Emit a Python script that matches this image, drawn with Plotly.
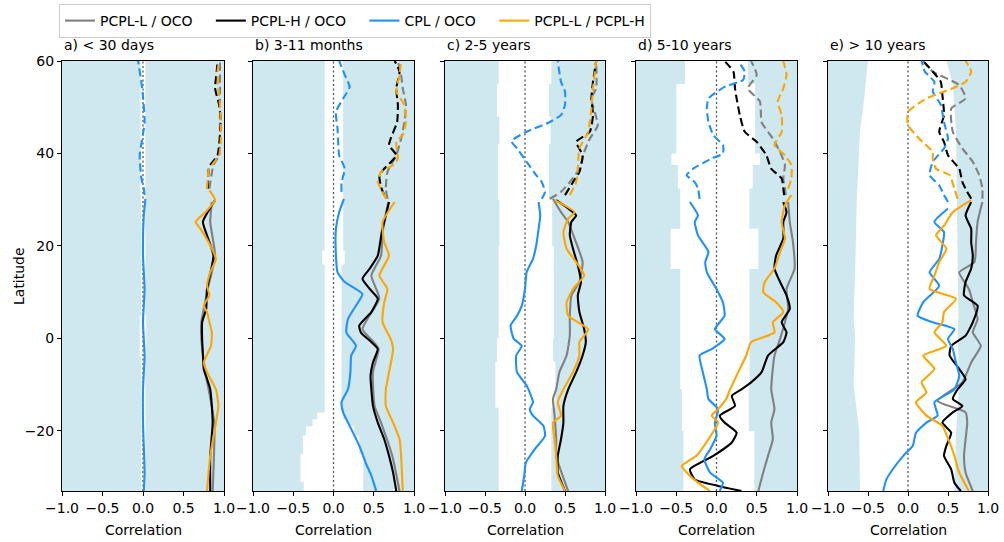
import plotly.graph_objects as go

# ---------------- data (latitude, correlation) ----------------
TITLES = ["a) < 30 days", "b) 3-11 months", "c) 2-5 years", "d) 5-10 years", "e) > 10 years"]
SERIES_NAMES = ["PCPL-L / OCO", "PCPL-H / OCO", "CPL / OCO", "PCPL-L / PCPL-H"]
X_TICKS = [-1.0, -0.5, 0.0, 0.5, 1.0]
X_TICK_LABELS = ["\u22121.0", "\u22120.5", "0.0", "0.5", "1.0"]
Y_TICKS = [-20, 0, 20, 40, 60]
Y_TICK_LABELS = ["\u221220", "0", "20", "40", "60"]
LAT_MIN, LAT_MAX = -33, 60

# ---- panel a ----
A_GRAY_SOLID = [(29.5,0.85),(25.2,0.83),(17.9,0.89),(10.7,0.80),(3.5,0.72),(-0.1,0.72),(-7.3,0.77),(-18.2,0.88),(-33,0.86)]
A_BLACK_SOLID = [(29.9,0.89),(25.2,0.74),(22.3,0.79),(17.9,0.87),(10.7,0.79),(6.4,0.78),(3.5,0.73),(-0.1,0.73),(-3.7,0.74),(-6.6,0.75),(-11,0.83),(-18.2,0.86),(-25.4,0.83),(-33,0.83)]
A_BLUE_SOLID = [(30.2,0.03),(26.6,0.01),(17.9,0.0),(10.7,0.02),(3.5,0.0),(-3.7,0.02),(-11,0.0),(-18.2,0.0),(-29,0.02),(-33,0.01)]
A_ORANGE_SOLID = [(32.0,0.82),(29.9,0.89),(27.3,0.77),(25.2,0.65),(23.7,0.71),(20.8,0.81),(17.2,0.90),(14.3,0.83),(11.4,0.79),(9.3,0.82),(7.1,0.75),(5.7,0.79),(3.5,0.82),(1.3,0.85),(-1.6,0.84),(-5.2,0.75),(-7.3,0.79),(-11,0.90),(-14.6,0.93),(-18.2,0.90),(-25.4,0.83),(-33,0.79)]
A_GRAY_DASH = [(32.4,0.82),(37.5,0.87),(39.6,0.94),(46.8,0.95),(60,0.95)]
A_BLACK_DASH = [(32.4,0.80),(36.4,0.81),(37.5,0.83),(39.6,0.92),(46.8,0.96),(50.5,0.94),(54.1,0.89),(57.7,0.91),(60,0.92)]
A_BLUE_DASH = [(31.0,0.02),(32.4,0.01),(34.6,-0.02),(39.6,-0.04),(46.8,0.02),(54.1,-0.01),(60,-0.06)]
A_ORANGE_DASH = [(32.4,0.79),(34.6,0.80),(36.4,0.81),(37.5,0.85),(39.6,0.94),(43.2,0.96),(46.8,0.96),(50.5,0.95),(54.1,0.93),(57.7,0.92),(60,0.94)]

# ---- panel b ----
B_GRAY_SOLID = [(29.5,0.68),(23.0,0.61),(17.9,0.59),(13.6,0.47),(10.7,0.53),(8.6,0.57),(2.0,0.36),(-0.8,0.50),(-2.3,0.56),(-7.3,0.49),(-14.6,0.51),(-18.2,0.59),(-25.4,0.73),(-33,0.82)]
B_BLACK_SOLID = [(29.5,0.69),(26.6,0.65),(23.0,0.60),(17.9,0.55),(15.1,0.45),(12.9,0.36),(10.7,0.45),(8.6,0.55),(5.7,0.47),(2.8,0.32),(1.3,0.34),(-0.8,0.47),(-2.3,0.55),(-5.2,0.49),(-8.1,0.46),(-11,0.47),(-14.6,0.49),(-18.2,0.55),(-21.8,0.63),(-25.4,0.69),(-29,0.74),(-33,0.78)]
B_BLUE_SOLID = [(30.2,0.13),(27.3,0.07),(23.7,0.03),(17.9,0.03),(14.3,0.05),(12.2,0.14),(9.6,0.36),(7.1,0.28),(4.2,0.18),(1.3,0.16),(-1.6,0.28),(-3.7,0.22),(-7.3,0.21),(-11,0.18),(-13.8,0.10),(-16,0.12),(-19.6,0.22),(-23.2,0.32),(-26.9,0.40),(-29.7,0.47),(-33,0.53)]
B_ORANGE_SOLID = [(29.5,0.76),(25.2,0.61),(20.8,0.63),(17.9,0.69),(13.6,0.57),(10.7,0.67),(7.8,0.63),(3.5,0.61),(-0.1,0.71),(-2.3,0.74),(-7.3,0.69),(-11,0.65),(-14.6,0.65),(-18.2,0.74),(-21.8,0.82),(-25.4,0.84),(-33,0.86)]
B_GRAY_DASH = [(30.2,0.67),(32.4,0.65),(36,0.67),(39.6,0.78),(43.2,0.84),(46.8,0.88),(50.5,0.90),(54.1,0.86),(57,0.84),(60,0.80)]
B_BLACK_DASH = [(31.0,0.63),(32.8,0.59),(35.3,0.57),(36.7,0.63),(39.6,0.78),(41.8,0.69),(43.2,0.71),(46.8,0.79),(50.5,0.80),(54.1,0.78),(57.7,0.82),(60,0.76)]
B_BLUE_DASH = [(31.7,0.10),(33.8,0.10),(36.7,0.14),(39.6,0.07),(41.8,0.06),(45.4,0.05),(49,0.03),(51.9,0.12),(54.4,0.20),(57,0.14),(60,0.07)]
B_ORANGE_DASH = [(30.2,0.65),(32.4,0.59),(33.8,0.55),(36,0.59),(37.5,0.74),(38.9,0.80),(42.5,0.78),(44,0.86),(46.8,0.90),(50.5,0.88),(53.4,0.78),(57,0.82),(60,0.84)]

# ---- panel c ----
C_GRAY_SOLID = [(30.2,0.35),(27.3,0.45),(25.2,0.54),(21.6,0.62),(16.5,0.72),(12.2,0.68),(9.3,0.58),(4.9,0.56),(0.6,0.56),(-3.7,0.52),(-7.3,0.43),(-11,0.39),(-13.1,0.35),(-16.7,0.37),(-21.8,0.39),(-25.4,0.39),(-33,0.54)]
C_BLACK_SOLID = [(29.9,0.39),(28.1,0.54),(26.6,0.64),(25.2,0.58),(22.3,0.56),(19.4,0.60),(15.8,0.66),(12.2,0.70),(9.3,0.66),(5.7,0.68),(2.0,0.74),(-0.8,0.76),(-3.7,0.72),(-7.3,0.64),(-11,0.54),(-14.6,0.48),(-18.2,0.48),(-21.8,0.45),(-25.4,0.41),(-29,0.41),(-33,0.50)]
C_BLUE_SOLID = [(29.5,0.17),(26.6,0.19),(23.7,0.17),(20.1,0.14),(17.2,0.10),(14.3,0.02),(10.7,0.0),(7.1,-0.04),(4.9,-0.10),(2.8,-0.18),(-0.1,-0.14),(-1.6,-0.04),(-3.7,-0.11),(-7.3,-0.10),(-10.2,0.02),(-13.8,0.10),(-15.3,0.06),(-16.7,0.10),(-18.9,0.23),(-21.1,0.25),(-24,0.12),(-26.9,0.01),(-29.7,-0.01),(-33,-0.04)]
C_ORANGE_SOLID = [(29.9,0.37),(27.3,0.62),(25.9,0.54),(23.0,0.48),(19.4,0.52),(16.5,0.64),(13.6,0.74),(10.7,0.60),(7.8,0.52),(4.9,0.54),(2.0,0.79),(-0.8,0.68),(-3.7,0.68),(-7.3,0.60),(-11,0.48),(-13.8,0.41),(-16.7,0.45),(-18.2,0.35),(-21.8,0.37),(-25.4,0.39),(-29.7,0.41),(-33,0.50)]
C_GRAY_DASH = [(30.2,0.31),(31.7,0.45),(33.8,0.56),(36.7,0.68),(40.3,0.74),(43.2,0.81),(46.1,0.91),(51.9,0.83),(54.1,0.89),(60,0.89)]
C_BLACK_DASH = [(31.0,0.50),(33.8,0.60),(36,0.68),(39.6,0.72),(42.5,0.64),(44.7,0.81),(48.3,0.85),(51.9,0.83),(55.5,0.85),(60,0.89)]
C_BLUE_DASH = [(30.2,0.21),(31.7,0.25),(33.8,0.21),(35.3,0.14),(38.2,0.02),(41.1,-0.10),(42.7,-0.17),(44.7,0.02),(46.8,0.31),(48.3,0.45),(50.5,0.50),(53.4,0.50),(55.5,0.45),(60,0.41)]
C_ORANGE_DASH = [(31.0,0.56),(33.8,0.64),(36.7,0.66),(41.1,0.68),(44.7,0.79),(49.7,0.83),(54.1,0.85),(60,0.89)]

# ---- panel d ----
D_GRAY_SOLID = [(29.5,0.89),(25.2,0.91),(20.8,0.95),(15.1,0.97),(10.7,0.87),(6.4,0.89),(3.5,0.85),(-0.1,0.79),(-3.7,0.72),(-11,0.68),(-15.3,0.72),(-18.2,0.68),(-21.8,0.70),(-25.4,0.64),(-29,0.58),(-33,0.52)]
D_BLACK_SOLID = [(29.5,0.83),(27.3,0.87),(25.2,0.83),(21.6,0.83),(17.9,0.74),(15.1,0.72),(12.2,0.79),(9.3,0.87),(6.4,0.91),(3.5,0.81),(1.3,0.87),(-0.8,0.83),(-3.7,0.64),(-7.3,0.56),(-9.5,0.43),(-11,0.31),(-12.4,0.19),(-14.6,0.23),(-16.7,0.04),(-18.2,0.10),(-20.4,0.25),(-22.5,0.19),(-25.4,-0.04),(-28.3,-0.33),(-30.5,-0.27),(-31.9,0.02),(-33,0.31)]
D_BLUE_SOLID = [(29.5,-0.33),(26.6,-0.23),(25.2,-0.27),(22.3,-0.23),(18.7,-0.10),(16.5,-0.14),(14.3,-0.12),(10.7,0.0),(7.8,0.08),(4.9,0.10),(2.0,-0.02),(-0.1,0.10),(-2.3,-0.06),(-3.7,-0.21),(-7.3,-0.17),(-11,-0.12),(-13.1,-0.10),(-15.3,0.02),(-18.2,-0.02),(-21.1,0.0),(-24,-0.08),(-26.1,-0.15),(-29,-0.08),(-31.2,0.08),(-33,0.04)]
D_ORANGE_SOLID = [(31.0,0.93),(28.8,0.85),(25.2,0.81),(21.6,0.85),(18.7,0.79),(15.1,0.72),(12.2,0.60),(10.0,0.58),(7.8,0.74),(5.7,0.83),(3.5,0.70),(1.3,0.72),(-0.8,0.43),(-3.7,0.37),(-7.3,0.27),(-11,0.17),(-13.1,0.12),(-15.3,0.02),(-16.7,-0.06),(-18.2,0.02),(-21.8,-0.10),(-25.4,-0.25),(-27.6,-0.43),(-29.7,-0.33),(-31.2,-0.23),(-33,-0.08)]
D_GRAY_DASH = [(31.0,0.86),(32.4,0.85),(34.6,0.83),(37.5,0.85),(40.3,0.79),(43.2,0.70),(46.8,0.56),(51.2,0.54),(54.1,0.39),(57,0.50),(60,0.43)]
D_BLACK_DASH = [(31.0,0.84),(32.4,0.83),(34.6,0.81),(36.7,0.68),(39.6,0.62),(42.5,0.50),(44.7,0.35),(48.3,0.29),(51.9,0.25),(54.1,0.23),(57.7,0.21),(60,0.10)]
D_BLUE_DASH = [(30.2,-0.21),(32.4,-0.23),(33.8,-0.27),(35.3,-0.37),(36.7,-0.29),(38.9,-0.06),(40,0.08),(41.8,0.08),(44,-0.04),(46.8,-0.10),(49.7,-0.12),(51.9,-0.10),(54.4,0.10),(55.9,0.33),(57.7,0.35),(60,0.27)]
D_ORANGE_DASH = [(32.4,0.89),(34.6,0.93),(37.5,0.93),(39.6,0.85),(41.8,0.72),(44.7,0.81),(48.3,0.81),(51.2,0.76),(54.1,0.83),(57,0.87),(60,0.83)]

# ---- panel e ----
E_GRAY_SOLID = [(29.5,0.93),(25.2,0.87),(20.8,0.85),(16.5,0.83),(14.3,0.64),(10.7,0.76),(7.8,0.81),(4.2,0.87),(1.3,0.81),(-1.6,0.91),(-5.2,0.79),(-9.5,0.68),(-13.5,0.37),(-16,0.72),(-18.2,0.74),(-21.8,0.72),(-25.4,0.70),(-29,0.72),(-33,0.81)]
E_BLACK_SOLID = [(29.5,0.79),(26.6,0.72),(23.7,0.79),(20.8,0.79),(17.9,0.81),(15.1,0.79),(12.2,0.72),(9.3,0.70),(7.1,0.87),(3.5,0.81),(0.6,0.72),(-1.6,0.54),(-3.7,0.52),(-6.6,0.64),(-8.8,0.72),(-11,0.62),(-13.1,0.56),(-14.6,0.68),(-16,0.56),(-18.2,0.43),(-20.4,0.54),(-23.2,0.48),(-25.4,0.45),(-28.3,0.54),(-31.2,0.58),(-33,0.66)]
E_BLUE_SOLID = [(28.1,0.50),(25.2,0.33),(23.0,0.45),(20.1,0.43),(17.2,0.39),(14.3,0.27),(11.4,0.39),(7.8,0.19),(4.9,0.12),(3.5,0.31),(2.0,0.58),(-0.1,0.50),(-2.3,0.56),(-5.2,0.60),(-8.1,0.64),(-11,0.58),(-13.8,0.33),(-16.7,0.37),(-18.2,0.23),(-20.4,0.10),(-23.2,0.06),(-25.4,-0.06),(-28.3,-0.19),(-30.5,-0.27),(-33,-0.31)]
E_ORANGE_SOLID = [(29.9,0.79),(27.3,0.56),(24.4,0.45),(22.3,0.35),(19.4,0.48),(16.5,0.39),(13.6,0.33),(10.7,0.27),(8.6,0.60),(5.7,0.45),(3.5,0.43),(1.3,0.33),(-1.6,0.48),(-3.7,0.19),(-6.6,0.33),(-9.5,0.17),(-11.7,0.23),(-13.8,0.10),(-16.7,0.23),(-18.9,0.43),(-22.5,0.52),(-25.4,0.58),(-29,0.64),(-33,0.76)]
E_GRAY_DASH = [(30.2,0.93),(32.4,0.93),(35.3,0.89),(38.2,0.81),(41.1,0.68),(44.7,0.56),(49.7,0.54),(51.9,0.72),(54.8,0.64),(57.7,0.31),(60,0.19)]
E_BLACK_DASH = [(30.2,0.79),(31.7,0.74),(33.8,0.68),(36.7,0.64),(39.6,0.50),(42.5,0.45),(44.7,0.39),(48.3,0.45),(52.6,0.43),(55.5,0.41),(57.7,0.31),(60,0.19)]
E_BLUE_DASH = [(29.5,0.50),(31.0,0.45),(33.1,0.39),(35.3,0.27),(38.2,0.31),(41.1,0.45),(43.2,0.50),(46.8,0.45),(50.5,0.41),(53.4,0.31),(55.5,0.33),(57.7,0.21),(60,0.17)]
E_ORANGE_DASH = [(30.2,0.62),(32.4,0.58),(35.3,0.52),(36.7,0.35),(38.9,0.31),(40.3,0.31),(43.2,0.14),(46.1,0.0),(49,0.0),(51.9,0.23),(54.1,0.56),(55.5,0.72),(57.7,0.79),(60,0.72)]

# ---- significance bands ----
# stepped bands: latitude boundaries (descending, n+1) with n lower/upper thresholds
A_BAND_LAT = [60, 31, 5, -4, -33]
A_BAND_LO = [-0.03, -0.025, -0.04, -0.025]
A_BAND_HI = [0.03, 0.03, 0.04, 0.03]
B_BAND_LAT = [60, 19, 16, -16, -17.5, -19, -21, -25, -31, -33]
B_BAND_LO = [-0.11, -0.14, -0.11, -0.20, -0.26, -0.34, -0.38, -0.41, -0.37]
B_BAND_HI = [0.12, 0.14, 0.10, 0.12, 0.18, 0.26, 0.32, 0.37, 0.37]
C_BAND_LAT = [60, 55, 48, 42, 30, 20, 0, -5, -15, -33]
C_BAND_LO = [-0.33, -0.35, -0.32, -0.34, -0.32, -0.33, -0.35, -0.37, -0.33]
C_BAND_HI = [0.33, 0.30, 0.32, 0.30, 0.34, 0.36, 0.35, 0.38, 0.33]
D_BAND_LAT = [60, 55, 40, 37.5, 32.4, 23.7, 15, -11, -20, -33]
D_BAND_LO = [-0.39, -0.50, -0.56, -0.48, -0.45, -0.57, -0.45, -0.43, -0.41]
D_BAND_HI = [0.39, 0.48, 0.54, 0.45, 0.41, 0.52, 0.41, 0.40, 0.47]
# smooth band for panel e: thresholds given at each latitude
E_BAND_LAT = [60, 55, 50, 45, 30, 15, 5, 0, -10, -20, -33]
E_BAND_LO = [-0.50, -0.53, -0.56, -0.60, -0.64, -0.66, -0.68, -0.66, -0.68, -0.61, -0.60]
E_BAND_HI = [0.48, 0.56, 0.58, 0.60, 0.61, 0.62, 0.63, 0.62, 0.64, 0.60, 0.58]

PANELS = [
    dict(solid=[A_GRAY_SOLID, A_BLACK_SOLID, A_BLUE_SOLID, A_ORANGE_SOLID],
         dash=[A_GRAY_DASH, A_BLACK_DASH, A_BLUE_DASH, A_ORANGE_DASH],
         band=(A_BAND_LAT, A_BAND_LO, A_BAND_HI), stepped=True),
    dict(solid=[B_GRAY_SOLID, B_BLACK_SOLID, B_BLUE_SOLID, B_ORANGE_SOLID],
         dash=[B_GRAY_DASH, B_BLACK_DASH, B_BLUE_DASH, B_ORANGE_DASH],
         band=(B_BAND_LAT, B_BAND_LO, B_BAND_HI), stepped=True),
    dict(solid=[C_GRAY_SOLID, C_BLACK_SOLID, C_BLUE_SOLID, C_ORANGE_SOLID],
         dash=[C_GRAY_DASH, C_BLACK_DASH, C_BLUE_DASH, C_ORANGE_DASH],
         band=(C_BAND_LAT, C_BAND_LO, C_BAND_HI), stepped=True),
    dict(solid=[D_GRAY_SOLID, D_BLACK_SOLID, D_BLUE_SOLID, D_ORANGE_SOLID],
         dash=[D_GRAY_DASH, D_BLACK_DASH, D_BLUE_DASH, D_ORANGE_DASH],
         band=(D_BAND_LAT, D_BAND_LO, D_BAND_HI), stepped=True),
    dict(solid=[E_GRAY_SOLID, E_BLACK_SOLID, E_BLUE_SOLID, E_ORANGE_SOLID],
         dash=[E_GRAY_DASH, E_BLACK_DASH, E_BLUE_DASH, E_ORANGE_DASH],
         band=(E_BAND_LAT, E_BAND_LO, E_BAND_HI), stepped=False),
]

# ---------------- style ----------------
COLORS = ["#808080", "#000000", "#1E90FF", "#FFA500"]
BAND_COLOR = "#cfe7ee"
FONT = "DejaVu Sans"
FS = 14
W, H = 1004, 542
PX_LEFT = [62, 253, 445, 636, 828]
PX_RIGHT = [224, 414, 605, 797, 988]
PX_TOP, PX_BOTTOM = 61, 491
LEGEND_PAD = "\u00a0\u00a0\u00a0"

fig = go.Figure()


def band_edge(lats, vals, stepped):
    if not stepped:
        return list(vals), list(lats)
    xs, ys = [], []
    for i, v in enumerate(vals):
        xs += [v, v]
        ys += [lats[i], lats[i + 1]]
    return xs, ys


for p, panel in enumerate(PANELS):
    xa = "x" if p == 0 else f"x{p+1}"
    ya = "y" if p == 0 else f"y{p+1}"
    lats, lo, hi = panel["band"]
    for edge, vals in ((-1.0, lo), (1.0, hi)):
        ex, ey = band_edge(lats, vals, panel["stepped"])
        xs = [edge] + ex + [edge]
        ys = [lats[0]] + ey + [lats[-1]]
        fig.add_trace(go.Scatter(x=xs, y=ys, mode="lines", fill="toself",
                                 fillcolor=BAND_COLOR, line=dict(width=0, color=BAND_COLOR),
                                 hoverinfo="skip", showlegend=False, xaxis=xa, yaxis=ya))
    fig.add_trace(go.Scatter(x=[0, 0], y=[LAT_MIN, LAT_MAX], mode="lines",
                             line=dict(color="#555555", width=1.3, dash="2px,2.5px"),
                             hoverinfo="skip", showlegend=False, xaxis=xa, yaxis=ya))
    for k in range(4):
        label = SERIES_NAMES[k] + (LEGEND_PAD if k < 3 else "")
        for seg, dash in ((panel["dash"][k], "8px,4px"), (panel["solid"][k], "solid")):
            fig.add_trace(go.Scatter(
                x=[r for _, r in seg], y=[lat for lat, _ in seg], mode="lines",
                line=dict(color=COLORS[k], width=2.1, dash=dash, shape="spline", smoothing=0.5),
                name=label, legendgroup=SERIES_NAMES[k],
                showlegend=(p == 0 and dash == "solid"), hoverinfo="skip",
                xaxis=xa, yaxis=ya))

layout = dict(
    width=W, height=H, margin=dict(l=0, r=0, t=0, b=0, autoexpand=False),
    paper_bgcolor="white", plot_bgcolor="white",
    font=dict(family=FONT, size=FS, color="black"),
    showlegend=True,
    legend=dict(orientation="h", x=59 / W, y=1 - 4 / H, xanchor="left", yanchor="top",
                bordercolor="#cccccc", borderwidth=1, itemwidth=30,
                font=dict(family=FONT, size=FS), traceorder="normal", tracegroupgap=0),
)
annotations = []
for p in range(5):
    sfx = "" if p == 0 else str(p + 1)
    dom_x = [PX_LEFT[p] / W, PX_RIGHT[p] / W]
    dom_y = [1 - PX_BOTTOM / H, 1 - PX_TOP / H]
    layout["xaxis" + sfx] = dict(
        domain=dom_x, range=[-1, 1], tickvals=X_TICKS, ticktext=X_TICK_LABELS,
        showline=True, mirror=True, linecolor="black", linewidth=1,
        ticks="outside", ticklen=4, tickwidth=1, tickcolor="black",
        showgrid=False, zeroline=False, anchor="y" + sfx, tickfont=dict(size=FS),
        automargin=False, fixedrange=True)
    layout["yaxis" + sfx] = dict(
        domain=dom_y, range=[LAT_MIN, LAT_MAX], tickvals=Y_TICKS, ticktext=Y_TICK_LABELS,
        showticklabels=(p == 0),
        showline=True, mirror=True, linecolor="black", linewidth=1,
        ticks="outside", ticklen=4, tickwidth=1, tickcolor="black",
        showgrid=False, zeroline=False, anchor="x" + sfx, tickfont=dict(size=FS),
        automargin=False, fixedrange=True)
    annotations.append(dict(text=TITLES[p], xref="paper", yref="paper",
                            x=PX_LEFT[p] / W, y=1 - 45 / H, xanchor="left", yanchor="middle",
                            showarrow=False, font=dict(size=FS)))
    annotations.append(dict(text="Correlation", xref="paper", yref="paper",
                            x=(PX_LEFT[p] + PX_RIGHT[p]) / 2 / W, y=1 - 530 / H,
                            xanchor="center", yanchor="middle", showarrow=False,
                            font=dict(size=FS)))
annotations.append(dict(text="Latitude", xref="paper", yref="paper", x=19 / W,
                        y=1 - 276 / H, xanchor="center", yanchor="middle", textangle=-90,
                        showarrow=False, font=dict(size=FS)))
layout["annotations"] = annotations
fig.update_layout(**layout)
fig.write_html("out.html")
